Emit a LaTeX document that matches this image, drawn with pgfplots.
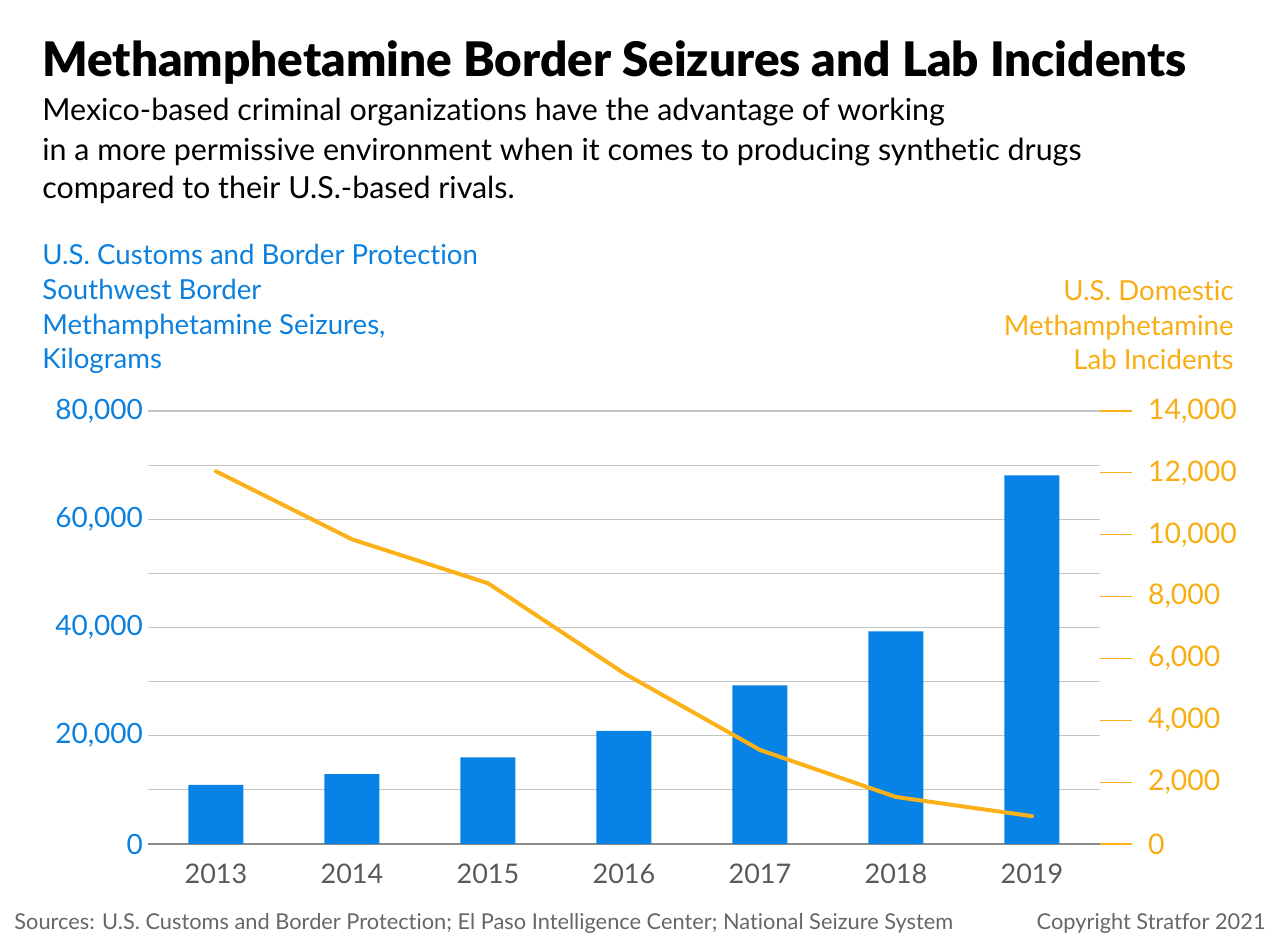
\documentclass[border=0pt]{standalone}
\usepackage{fontspec}
\setmainfont{Lato}[Ligatures={NoCommon}]
\newfontfamily\titlefont{Lato Black}[Ligatures={NoCommon}]
\usepackage{pgfplots}
\pgfplotsset{compat=1.18}
\definecolor{mblue}{HTML}{0782E6}
\definecolor{morange}{HTML}{FBB117}
\definecolor{ltext}{HTML}{0B80DE}
\definecolor{otext}{HTML}{F9AD14}
\definecolor{gridgray}{HTML}{C4C4C4}
\definecolor{basegray}{HTML}{8A8A8A}
\definecolor{xlab}{HTML}{5A5A5A}
\definecolor{foot}{HTML}{666666}
\begin{document}
\begin{tikzpicture}
\path[use as bounding box] (0,0) rectangle (640pt,475.5pt);
% titles
\node[anchor=base west, inner sep=0, font=\titlefont\fontsize{23.8}{28}\selectfont] at (21pt,437pt) {Methamphetamine Border Seizures and Lab Incidents};
\begin{scope}[every node/.style={anchor=base west, inner sep=0, font=\fontsize{15.2}{18}\selectfont}]
\node at (21pt,415pt) {Mexico-based criminal organizations have the advantage of working};
\node at (21pt,395pt) {in a more permissive environment when it comes to producing synthetic drugs};
\node at (21pt,376pt) {compared to their U.S.-based rivals.};
\end{scope}
\begin{scope}[every node/.style={anchor=base west, inner sep=0, text=ltext, font=\fontsize{13.8}{16}\selectfont}]
\node at (21pt,343pt) {U.S. Customs and Border Protection};
\node at (21pt,325.5pt) {Southwest Border};
\node at (21pt,308pt) {Methamphetamine Seizures,};
\node at (21pt,291pt) {Kilograms};
\end{scope}
\begin{scope}[every node/.style={anchor=base east, inner sep=0, text=otext, font=\fontsize{13.8}{16}\selectfont}]
\node at (617pt,325pt) {U.S. Domestic};
\node at (617pt,307.5pt) {Methamphetamine};
\node at (617pt,290.5pt) {Lab Incidents};
\end{scope}
\node[anchor=base west, inner sep=0, text=foot, font=\fontsize{10.9}{12}\selectfont] at (7pt,10.5pt) {Sources: U.S. Customs and Border Protection; El Paso Intelligence Center; National Seizure System};
\node[anchor=base east, inner sep=0, text=foot, font=\fontsize{10.9}{12}\selectfont] at (633pt,10.5pt) {Copyright Stratfor 2021};

\begin{axis}[
  at={(74pt,53.5pt)}, anchor=south west, scale only axis,
  width=476pt, height=216.5pt,
  xmin=-0.5, xmax=6.5, ymin=0, ymax=80000,
  ybar, bar width=27.5pt,
  axis x line*=bottom, axis y line*=left,
  y axis line style={draw=none},
  x axis line style={draw=basegray, line width=0.8pt, -},
  xtick={0,...,6}, xticklabels={2013,2014,2015,2016,2017,2018,2019},
  major tick length=0pt, minor tick length=0pt,
  ytick={0,20000,40000,60000,80000},
  minor ytick={10000,30000,50000,70000},
  ymajorgrids, yminorgrids,
  major grid style={draw=gridgray, line width=0.6pt},
  minor grid style={draw=gridgray, line width=0.6pt},
  yticklabel style={text=ltext, font=\fontsize{14}{16}\selectfont, xshift=1pt},
  xticklabel style={text=xlab, font=\fontsize{13.5}{16}\selectfont, yshift=-6.5pt},
  scaled y ticks=false,
  /pgf/number format/.cd, 1000 sep={,}, assume math mode=true
]
\addplot[fill=mblue, draw=none] coordinates {(0,10900) (1,12900) (2,16000) (3,20900) (4,29300) (5,39300) (6,68100)};
\end{axis}

\begin{axis}[
  at={(74pt,53.5pt)}, anchor=south west, scale only axis,
  width=476pt, height=216.5pt,
  xmin=-0.5, xmax=6.5, ymin=0, ymax=14000,
  axis x line=none, axis y line*=right,
  y axis line style={draw=none},
  xtick=\empty,
  ytick={0,2000,4000,6000,8000,10000,12000,14000},
  ytick align=outside, major tick length=16pt,
  tick style={draw=morange, line width=0.6pt},
  yticklabel style={text=otext, font=\fontsize{14.2}{16}\selectfont, xshift=4.5pt},
  scaled y ticks=false,
  /pgf/number format/.cd, 1000 sep={,}, assume math mode=true
]
\addplot[draw=morange, line width=2pt, line join=round, line cap=round, mark=none] coordinates {(0,12050) (1,9850) (2,8430) (3,5520) (4,3040) (5,1520) (6,900)};
\end{axis}
\end{tikzpicture}
\end{document}
